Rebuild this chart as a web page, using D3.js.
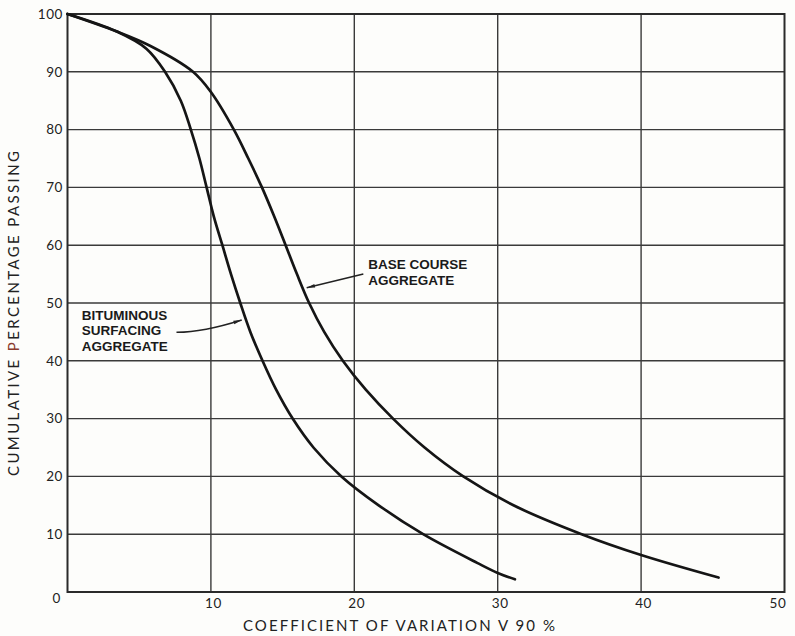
<!DOCTYPE html>
<html>
<head>
<meta charset="utf-8">
<script src="https://cdn.jsdelivr.net/npm/d3@7/dist/d3.min.js"></script>
<style>
  html, body { margin: 0; padding: 0; background: #fdfdfb; }
  svg { display: block; }
  .tick-label { font-family: "Lato", "DejaVu Sans", sans-serif; font-size: 13.5px; fill: #222; letter-spacing: 0.6px; }
  .axis-title { font-family: "Lato", "DejaVu Sans", sans-serif; font-size: 15px; fill: #222; }
  .note { font-family: "Liberation Sans Narrow", "Arial Narrow", "Liberation Sans", sans-serif; font-weight: bold; font-size: 13.5px; fill: #1a1a1a; }
</style>
</head>
<body>
<svg id="chart" width="795" height="636"></svg>
<script>
// Coefficient of variation (V90 %) against cumulative percentage passing
const bituminousCov = [0, 3.4, 5.5, 6.8, 7.9, 8.6, 9.2, 9.7, 10.2, 10.8, 11.4, 12.05, 12.75, 13.6, 14.55, 15.7, 17.15, 19.1, 21.7, 24.8, 28.6, 30.0, 31.2];
const bituminousPassing = [100, 97, 94, 90, 85, 80, 75, 70, 65, 60, 55, 50, 45, 40, 35, 30, 25, 20, 15, 10, 5, 3.3, 2.2];

const baseCourseCov = [0, 3.4, 5.75, 8.75, 10, 11.6, 12.61, 13.56, 14.41, 15.21, 16.0, 16.85, 17.9, 19.2, 20.8, 22.7, 24.9, 27.6, 31.1, 35.85, 40, 45.4];
const baseCoursePassing = [100, 97, 94.5, 90, 86.5, 80, 75, 70, 65, 60, 55, 50, 45, 40, 35, 30, 25, 20, 15, 10, 6.4, 2.5];

const xTicks = [10, 20, 30, 40, 50];
const yTicks = [0, 10, 20, 30, 40, 50, 60, 70, 80, 90, 100];

const seriesLabels = [
  { lines: ["BITUMINOUS", "SURFACING", "AGGREGATE"], at: [1.0, 47.06], from: [7.6, 44.93], bend: [9.4, 44.9], tip: [12.15, 47.06] },
  { lines: ["BASE COURSE", "AGGREGATE"], at: [20.98, 55.88], from: [20.63, 55.02], bend: [18.65, 53.85], tip: [16.68, 52.65] }
];

const svg = d3.select("#chart");
const W = 795, H = 636;

const x = d3.scaleLinear().domain([0, 50]).range([67.5, 784.5]);
const y = d3.scaleLinear().domain([0, 100]).range([592, 14]);

// grid
const grid = svg.append("g").attr("stroke", "#3a3a3a").attr("stroke-width", 1.4);
grid.selectAll(".gx").data(xTicks.slice(0, -1)).join("line")
  .attr("x1", d => x(d)).attr("x2", d => x(d))
  .attr("y1", y(0)).attr("y2", y(100));
grid.selectAll(".gy").data(yTicks.slice(1, -1)).join("line")
  .attr("x1", x(0)).attr("x2", x(50))
  .attr("y1", d => y(d)).attr("y2", d => y(d));

// frame
svg.append("rect")
  .attr("x", x(0)).attr("y", y(100))
  .attr("width", x(50) - x(0)).attr("height", y(0) - y(100))
  .attr("fill", "none").attr("stroke", "#2a2a2a").attr("stroke-width", 2);

// axes (labels only; the frame carries the lines)
const xAxis = d3.axisBottom(x).tickValues(xTicks).tickSize(0).tickPadding(0);
svg.append("g").attr("transform", `translate(0,${y(0) + 6})`).call(xAxis)
  .call(g => g.select(".domain").remove())
  .selectAll("text").attr("class", "tick-label").attr("fill", null).attr("font-size", null).attr("font-family", null)
  .attr("dx", (d) => d === 50 ? -7 : 2);

const yAxis = d3.axisLeft(y).tickValues(yTicks).tickSize(0).tickPadding(0);
svg.append("g").attr("transform", `translate(${x(0) - 4.5},0)`).call(yAxis)
  .call(g => g.select(".domain").remove())
  .selectAll("text").attr("class", "tick-label").attr("fill", null).attr("font-size", null).attr("font-family", null)
  .attr("dy", d => d === 0 ? "0.8em" : "0.32em")
  .attr("dx", d => d === 0 ? -2 : 0);

// curves
const line = d3.line().x(d => x(d[0])).y(d => y(d[1])).curve(d3.curveCatmullRom.alpha(0.5));
const bitPts = bituminousCov.map((c, i) => [c, bituminousPassing[i]]);
const basePts = baseCourseCov.map((c, i) => [c, baseCoursePassing[i]]);
[bitPts, basePts].forEach(pts => {
  svg.append("path").datum(pts)
    .attr("d", line)
    .attr("fill", "none").attr("stroke", "#151515")
    .attr("stroke-width", 2.7).attr("stroke-linejoin", "round").attr("stroke-linecap", "round");
});

// arrowhead
svg.append("defs").append("marker")
  .attr("id", "arrow").attr("viewBox", "0 0 10 6").attr("refX", 10).attr("refY", 3)
  .attr("markerWidth", 12).attr("markerHeight", 5).attr("orient", "auto")
  .attr("markerUnits", "userSpaceOnUse")
  .append("path").attr("d", "M0,0.8 L10,3 L0,5.2 Z").attr("fill", "#222");

// series labels with leaders
seriesLabels.forEach(s => {
  const t = svg.append("text").attr("class", "note")
    .attr("x", x(s.at[0])).attr("y", y(s.at[1]));
  s.lines.forEach((ln, i) => t.append("tspan").attr("x", x(s.at[0])).attr("dy", i === 0 ? 0 : 15.5).text(ln));
  const p = d3.path();
  p.moveTo(x(s.from[0]), y(s.from[1]));
  p.quadraticCurveTo(x(s.bend[0]), y(s.bend[1]), x(s.tip[0]), y(s.tip[1]));
  svg.append("path").attr("d", p.toString())
    .attr("fill", "none").attr("stroke", "#222").attr("stroke-width", 1.5)
    .attr("marker-end", "url(#arrow)");
});

// axis titles
svg.append("text").attr("class", "axis-title")
  .attr("x", 243).attr("y", H - 5)
  .attr("textLength", 312).attr("lengthAdjust", "spacing")
  .text("COEFFICIENT OF VARIATION  V 90 %");

const yt = svg.append("text").attr("class", "axis-title")
  .attr("transform", `translate(19,476) rotate(-90)`)
  .attr("textLength", 325).attr("lengthAdjust", "spacing");
yt.append("tspan").text("CUMULATIVE  ");
yt.append("tspan").attr("fill", "#8a3b2e").text("P");
yt.append("tspan").text("ERCENTAGE  PASSING");
</script>
</body>
</html>
